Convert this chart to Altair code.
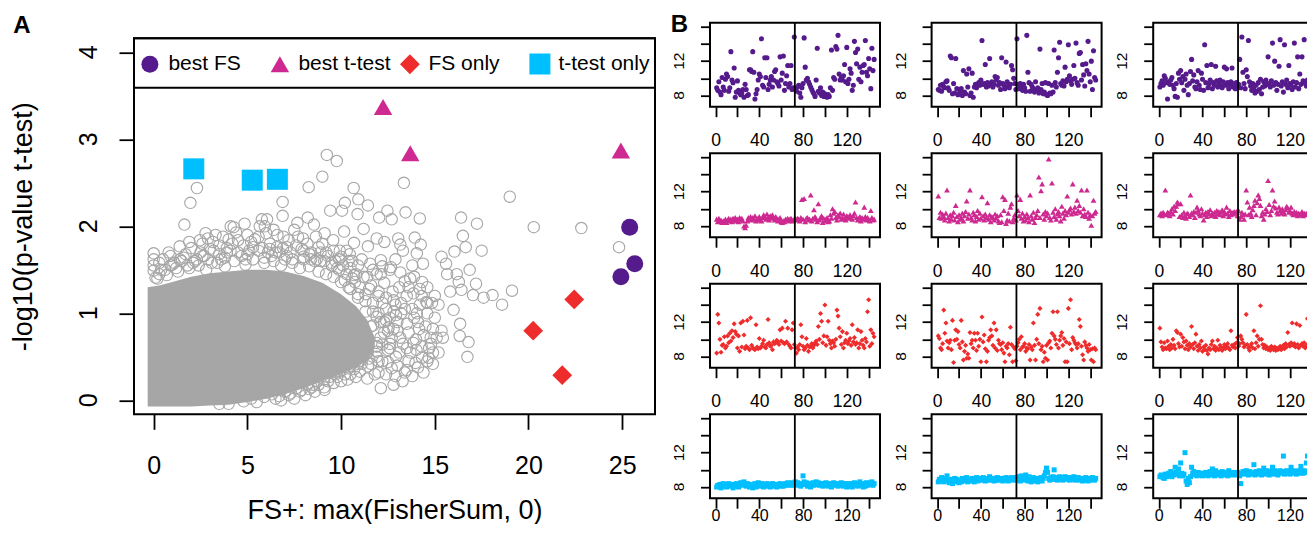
import altair as alt
import pandas as pd

FONT = "Liberation Sans"
PURPLE = "#551A8B"
MAGENTA = "#CD2990"
RED = "#EE2C2C"
CYAN = "#00BFFF"
GREY = "#A6A6A6"

# ---------------- Panel A data ----------------
cats = ["best FS", "best t-test", "FS only", "t-test only"]
cat_colors = [PURPLE, MAGENTA, RED, CYAN]
cat_shapes = ["circle", "triangle-up", "diamond", "square"]
cat_sizes = [289, 441, 300, 289]
a_yticks = [0, 1, 2, 3, 4]
a_xticks = [0, 5, 10, 15, 20, 25]

hi_cat = ["best FS"] * 3 + ["best t-test"] * 3 + ["FS only"] * 3 + ["t-test only"] * 3
hi_x = [25.4, 25.67, 24.93, 12.24, 13.69, 24.93, 20.25, 22.44, 21.8, 2.14, 5.26, 6.6]
hi_y = [1.99, 1.57, 1.42, 3.37, 2.84, 2.87, 0.80, 1.16, 0.29, 2.66, 2.53, 2.54]

# dense core of the grey cloud (visible upper / lower edge)
core_x = [-0.32, 0.3, 1, 2, 3, 4, 5, 6, 7, 8, 9, 10, 10.8, 11.4, 11.8]
core_hi = [1.30, 1.32, 1.36, 1.42, 1.46, 1.48, 1.50, 1.50, 1.48, 1.43, 1.35, 1.22, 1.08, 0.92, 0.72]
core_lo = [-0.07, -0.07, -0.07, -0.07, -0.06, -0.05, -0.02, 0.02, 0.07, 0.14, 0.22, 0.30, 0.38, 0.46, 0.60]

# scattered grey points
grey_x = [9.24, 9.77, 9.0, 8.27, 10.67, 13.35, 2.31, 1.96, 6.88, 10.92, 10.2, 11.43, 9.42, 10.05, 12.47,
          13.44, 10.88, 6.88, 6.05, 8.22, 12.03, 12.7, 14.2, 16.4, 17.25, 19.0, 20.28, 22.82, 24.83, 1.64,
          4.85, 7.67, 8.55, 4.27, 11.2, 16.5, 16.05, 16.65, 17.5, 15.36, 15.6, 16.17, 16.86, 15.66, 16.28,
          17.2, 15.82, 16.42, 17.04, 17.6, 18.08, 18.59, 19.12, 16.0, 16.35, 16.33, 16.8, 16.74, 15.36, 15.43,
          14.78, 14.67, 13.97, 13.28, 12.12, 14.55, 14.85, 14.04, 13.86, 14.32, 13.69, 14.37, 13.93, 14.25, 13.05,
          13.16, 14.04, 12.31, 11.9, 11.43, 10.69, 10.16, 10.46, 10.74, 10.79, 10.35, 9.12, 8.43, 7.04, 6.24,
          4.46, 2.31, 13.86, 13.51, 14.32, 12.93, 12.7, 11.9, 11.43, 12.54, 13.16, 12.93, 13.4, 13.51, 14.16,
          14.02, 14.9, 11.9, 12.75, 13.16, 13.4, 12.12, 12.66, 12.12, 11.55, 0.0, 0.0, 0.1, 1.39, 2.47,
          2.77, 3.16, 3.7, 4.11, 5.66, 5.77, 5.93, 6.58, 6.93, 7.97, 8.66, 9.0, 9.58, 9.12, 9.93,
          8.31, 0.0, 0.0, 0.3, 0.6, 0.9, 1.2, 1.5, 1.8, 2.2, 2.5, 2.9, 3.2, 3.5, 3.9,
          4.2, 4.5, 4.8, 5.1, 5.4, 5.8, 6.2, 6.5, 6.9, 7.3, 7.6, 8.0, 8.4, 8.7, 9.1,
          9.5, 9.9, 10.3, 10.6, 11.0, 11.3, 11.7, 12.0, 12.3, 12.5, 12.6, 6.5, 7.2, 7.8, 8.3,
          8.8, 9.3, 9.8, 10.2, 10.7, 11.1, 11.5, 11.9, 12.2, 5.5, 3.5, 11.2, 11.6, 12.0, 12.4,
          12.8, 13.1, 13.5, 13.8, 14.1, 14.4, 14.7, 12.2, 12.6, 13.0, 13.3, 13.7, 14.0, 14.3, 14.6,
          14.9, 13.5, 12.9, 11.8, 11.4, 12.3, 12.6, 11.9, 11.4, 10.9, 10.4, 10.0, 9.6, 13.8, 14.3,
          14.6, 15.0, 15.2,
          0.5, 0.8, 1.1, 1.7, 2.0, 2.3, 2.6, 3.0, 3.3, 3.6, 4.0, 4.4, 4.7, 5.0, 5.2,
          5.6, 6.0, 6.3, 6.6, 7.0, 7.2, 7.5, 7.9, 8.2, 8.6, 8.9, 9.3, 9.7, 10.1, 10.5,
          10.8, 11.2, 11.6, 12.0, 12.4, 12.8, 6.8, 7.5, 8.1, 8.6, 9.1, 9.6, 10.0, 10.5, 11.0,
          11.6, 12.0, 12.5, 12.7, 13.0, 12.9, 13.2, 13.6, 13.9, 14.2, 14.5, 14.8, 15.1, 14.4, 13.8,
          15.2, 14.6, 15.0, 13.0, 12.4,
          0.2, 0.7, 1.3, 1.9, 2.4, 2.8, 3.4, 3.8, 4.3, 4.9, 5.3, 5.9, 6.4, 6.8, 7.4,
          7.8, 8.3, 8.8, 9.2, 9.6, 10.0, 10.4, 10.9, 11.3, 11.7, 12.1, 12.3, 11.9, 11.4, 10.8,
          10.2, 9.7, 9.1, 8.5, 7.9, 7.3, 6.7, 0.4, 1.0, 1.6, 2.7, 3.9, 5.0, 6.1, 7.1,
          8.0, 8.9, 9.8, 10.7, 11.5, 12.2, 12.6, 11.9, 11.2, 10.5]
grey_y = [2.82, 2.75, 2.57, 2.45, 2.44, 2.50, 2.44, 2.27, 2.28, 2.31, 2.27, 2.24, 2.18, 2.18, 2.18,
          2.16, 2.14, 2.12, 2.08, 2.10, 2.10, 2.08, 2.09, 2.10, 2.03, 2.34, 1.99, 1.98, 1.76, 2.02,
          2.03, 2.04, 2.02, 1.99, 1.97, 1.89, 1.71, 1.76, 1.72, 1.65, 1.57, 1.45, 1.50, 1.45, 1.36,
          1.34, 1.25, 1.27, 1.21, 1.18, 1.21, 1.10, 1.26, 1.04, 0.88, 0.74, 0.67, 0.50, 0.80, 0.72,
          0.72, 0.49, 0.43, 0.22, 0.14, 1.13, 1.12, 1.00, 1.23, 1.36, 1.40, 1.57, 1.87, 1.79, 1.86,
          1.79, 1.69, 1.82, 1.86, 1.77, 1.81, 1.94, 1.68, 1.36, 0.27, 0.24, 0.12, 0.15, 0.11, 0.11,
          0.04, 0.01, 0.66, 0.60, 0.49, 0.50, 0.37, 0.50, 0.39, 0.84, 0.72, 0.98, 1.05, 0.88, 0.82,
          0.58, 0.82, 0.96, 1.25, 1.47, 1.37, 1.45, 1.53, 1.61, 1.57, 1.69, 1.49, 1.41, 1.77, 1.84,
          1.92, 1.82, 1.88, 2.00, 2.00, 2.08, 2.00, 1.76, 1.88, 1.86, 1.88, 1.80, 1.84, 1.92, 1.72,
          1.68, 1.55, 1.62, 1.45, 1.50, 1.55, 1.52, 1.60, 1.55, 1.60, 1.70, 1.62, 1.72, 1.68, 1.75,
          1.80, 1.70, 1.78, 1.72, 1.85, 1.75, 1.80, 1.70, 1.75, 1.70, 1.78, 1.65, 1.70, 1.62, 1.60,
          1.55, 1.50, 1.45, 1.40, 1.30, 1.22, 1.12, 1.00, 0.90, 0.80, 0.65, 0.02, 0.06, 0.10, 0.13,
          0.18, 0.22, 0.27, 0.30, 0.36, 0.42, 0.48, 0.56, 0.64, -0.02, -0.04, 0.70, 0.85, 1.20, 1.05,
          1.15, 1.30, 1.20, 1.05, 0.90, 0.75, 0.60, 0.45, 0.60, 0.80, 0.65, 0.55, 0.70, 0.62, 0.45,
          0.55, 0.35, 0.28, 0.30, 0.25, 1.35, 1.50, 1.45, 1.42, 1.55, 1.60, 1.65, 1.72, 1.55, 1.20,
          1.00, 0.95, 1.10,
          1.62, 1.70, 1.58, 1.68, 1.75, 1.62, 1.80, 1.74, 1.90, 1.62, 1.85, 1.93, 1.66, 1.90, 1.82,
          1.72, 1.92, 1.66, 1.90, 1.62, 1.84, 1.96, 1.74, 1.80, 1.60, 1.70, 1.66, 1.60, 1.55, 1.52,
          1.45, 1.42, 1.32, 1.25, 1.18, 1.02, 0.00, 0.02, 0.06, 0.10, 0.15, 0.20, 0.22, 0.30, 0.33,
          0.42, 0.45, 0.58, 0.72, 0.90, 1.10, 1.00, 0.78, 0.95, 1.10, 0.85, 0.65, 0.72, 0.32, 0.28,
          0.55, 1.30, 1.20, 0.40, 0.30,
          1.40, 1.44, 1.48, 1.52, 1.55, 1.50, 1.58, 1.54, 1.60, 1.56, 1.62, 1.58, 1.60, 1.55, 1.58,
          1.52, 1.54, 1.48, 1.45, 1.42, 1.36, 1.30, 1.22, 1.14, 1.02, 0.90, 0.78, 0.66, 0.55, 0.46,
          0.38, 0.30, 0.24, 0.18, 0.12, 0.08, 0.05, 1.50, 1.56, 1.64, 1.66, 1.70, 1.68, 1.70, 1.66,
          1.62, 1.60, 1.52, 1.44, 1.28, 1.12, 0.95, 0.62, 0.50, 0.40]
grey2_x = [0.3, 0.9, 1.4, 1.9, 2.1, 2.6, 2.9, 3.1, 3.5, 3.8, 4.1, 4.5, 4.9, 5.3, 5.6,
           5.9, 6.2, 6.4, 6.7, 7.1, 7.4, 7.7, 8.0, 8.4, 8.8, 9.2, 9.5, 9.9, 10.3, 10.6,
           10.2, 10.5, 10.9, 11.3, 11.7, 12.1, 12.4, 12.8, 13.2, 13.6, 13.9, 14.2, 14.6, 11.1, 11.7,
           12.2, 12.9, 13.3, 10.9, 11.4, 11.9, 12.5, 13.1, 13.6, 14.1, 14.9, 12.0, 12.8, 13.4,
           4.0, 4.8, 5.2, 5.9, 6.3, 7.0, 7.6, 8.2, 8.7, 9.4, 9.9, 10.4, 11.0]
grey2_y = [1.58, 1.66, 1.62, 1.82, 1.58, 1.66, 1.86, 1.58, 1.78, 1.64, 1.72, 1.84, 1.62, 1.76, 1.88,
           1.64, 1.74, 1.96, 1.70, 1.76, 1.62, 1.88, 1.72, 1.62, 1.76, 1.70, 1.58, 1.62, 1.72, 1.60,
           1.38, 1.28, 1.18, 1.02, 0.86, 0.72, 0.92, 0.82, 1.12, 1.30, 1.42, 1.28, 1.12, 1.62, 1.50,
           1.54, 1.62, 1.72, 0.42, 0.55, 0.62, 0.44, 0.55, 0.45, 0.38, 0.42, 0.32, 0.18, 0.32,
           -0.04, -0.01, 0.02, 0.04, 0.07, 0.10, 0.14, 0.18, 0.22, 0.27, 0.33, 0.38, 0.45]

# ---------------- Panel B data (index 1..145 per panel) ----------------
split_at = 72.5
b_ylabels = [8, 12]
b_r1c1 = [8.9, 8.6, 9.6, 8.4, 8.1, 10.1, 9.0, 8.6, 9.9, 10.5,
          10.2, 8.5, 8.9, 13.1, 9.8, 9.5, 11.2, 7.8, 8.4, 9.7,
          8.6, 8.3, 8.1, 8.3, 8.7, 7.8, 9.3, 8.7, 8.0, 8.1,
          11.0, 11.0, 10.8, 13.1, 10.7, 7.6, 8.2, 8.7, 9.8, 10.5,
          10.2, 14.6, 9.2, 9.0, 12.4, 10.1, 12.4, 8.7, 9.3, 9.8,
          10.2, 9.0, 9.8, 10.8, 11.0, 9.6, 9.4, 9.1, 12.5, 9.8,
          10.6, 12.6, 8.6, 9.4, 10.3, 11.5, 9.0, 9.4, 11.5, 8.7,
          8.9, 14.8, 8.8, 8.5, 9.0, 9.2, 8.3, 7.8, 8.9, 9.4,
          14.7, 11.3, 9.8, 10.0, 9.6, 9.3, 9.0, 8.7, 8.4, 8.2,
          7.9, 9.8, 13.5, 8.5, 8.3, 8.9, 8.0, 8.4, 7.9, 8.2,
          7.9, 7.8, 8.1, 7.9, 8.9, 13.3, 8.6, 10.1, 9.9, 13.7,
          13.4, 15.0, 10.5, 9.8, 10.1, 9.8, 10.3, 11.6, 9.6, 13.6,
          9.4, 9.9, 11.1, 10.6, 8.6, 9.2, 14.3, 13.0, 11.7, 13.4,
          9.9, 11.3, 9.6, 10.7, 11.5, 11.6, 14.4, 10.7, 10.3, 12.3,
          11.1, 8.8, 13.5, 10.9, 12.2]
b_r1c2 = [8.7, 8.6, 9.2, 8.5, 9.3, 9.0, 8.9, 9.6, 9.7, 8.9,
          8.6, 12.6, 12.4, 8.2, 9.4, 8.3, 12.3, 8.8, 8.1, 8.2,
          8.5, 8.8, 8.0, 10.9, 8.4, 8.2, 10.5, 9.0, 11.1, 8.0,
          8.3, 10.6, 7.8, 9.0, 9.3, 8.9, 9.2, 9.5, 9.2, 9.8,
          14.4, 9.3, 9.4, 11.6, 9.0, 9.5, 9.1, 12.3, 9.4, 9.6,
          9.0, 9.3, 10.2, 9.8, 10.1, 9.2, 9.5, 8.7, 12.4, 9.4,
          9.2, 8.8, 11.9, 9.6, 9.1, 8.9, 9.3, 11.5, 11.0, 10.0,
          9.4, 8.7, 14.6, 9.3, 8.8, 9.4, 9.1, 8.6, 9.3, 8.9,
          8.5, 15.0, 10.7, 9.5, 8.5, 9.3, 9.0, 8.8, 8.4, 9.6,
          8.6, 8.9, 8.3, 13.4, 8.7, 9.4, 8.2, 8.4, 9.5, 8.1,
          8.0, 9.4, 8.3, 8.2, 9.2, 8.4, 13.3, 9.5, 9.0, 10.7,
          12.4, 14.2, 9.4, 9.2, 9.7, 9.1, 11.3, 9.6, 9.9, 13.9,
          10.3, 9.7, 9.3, 9.9, 11.5, 10.0, 14.1, 9.5, 9.2, 12.9,
          13.0, 9.8, 11.6, 10.4, 9.1, 11.7, 10.9, 14.3, 10.5, 9.6,
          12.0, 8.7, 13.2, 10.1, 9.8]
b_r1c3 = [9.0, 9.4, 9.7, 9.2, 10.3, 10.0, 9.5, 7.6, 9.6, 9.3,
          9.8, 10.1, 9.2, 8.8, 7.9, 9.4, 7.8, 10.6, 9.9, 10.9,
          9.5, 10.2, 8.6, 9.9, 10.5, 9.2, 8.1, 9.4, 10.8, 12.2,
          9.7, 10.4, 9.0, 8.8, 9.6, 10.9, 9.2, 8.7, 10.6, 9.9,
          8.6, 13.9, 9.5, 11.5, 8.9, 9.3, 9.8, 11.6, 8.8, 9.5,
          9.2, 11.4, 9.7, 9.0, 9.4, 9.8, 9.1, 8.9, 9.6, 11.3,
          9.2, 11.1, 9.5, 8.8, 9.3, 9.6, 11.2, 9.0, 9.4, 8.8,
          9.5, 9.1, 9.3, 12.2, 8.9, 14.8, 10.7, 9.4, 8.8, 11.0,
          10.2, 14.4, 9.6, 9.1, 8.6, 9.4, 8.8, 8.3, 9.2, 8.5,
          9.5, 8.7, 9.9, 8.2, 9.0, 9.6, 9.1, 9.8, 9.3, 12.5,
          9.4, 9.0, 9.7, 14.1, 9.2, 12.0, 9.5, 8.6, 9.3, 11.4,
          14.5, 9.1, 9.6, 8.4, 13.9, 9.3, 9.8, 8.9, 11.5, 9.4,
          9.2, 8.7, 9.6, 14.1, 9.0, 9.5, 12.5, 8.8, 10.5, 9.3,
          12.5, 9.7, 14.5, 9.4, 9.1, 9.8, 9.4, 9.6, 9.2, 9.5,
          9.3, 9.7, 9.5, 9.4, 9.6]
b_r2c1 = [8.8, 8.5, 8.9, 8.6, 8.7, 8.4, 8.6, 8.5, 8.8, 8.4,
          8.7, 8.9, 8.6, 8.8, 8.5, 8.9, 8.7, 9.0, 8.6, 8.8,
          8.5, 9.0, 8.7, 8.9, 8.6, 8.0, 7.8, 8.1, 8.6, 9.0,
          8.8, 9.1, 8.7, 9.0, 8.8, 9.2, 8.6, 8.9, 8.7, 9.1,
          8.8, 8.6, 9.0, 9.3, 9.1, 8.8, 9.4, 9.0, 8.7, 9.2,
          9.0, 9.3, 8.9, 8.7, 9.1, 8.9, 8.6, 8.8, 9.0, 8.5,
          8.4, 8.6, 8.5, 8.8, 8.7, 8.9, 8.6, 8.8, 8.9, 8.7,
          8.6, 8.8, 8.9, 8.7, 8.9, 8.8, 8.6, 9.0, 11.1, 8.8,
          11.2, 8.5, 8.9, 9.0, 8.7, 8.8, 11.6, 8.6, 8.9, 9.9,
          9.1, 8.8, 8.5, 10.6, 8.7, 9.0, 9.2, 8.4, 8.9, 8.6,
          8.8, 9.0, 8.5, 8.6, 9.3, 8.9, 10.0, 9.5, 9.7, 9.0,
          8.7, 9.3, 9.1, 9.5, 8.8, 9.0, 9.4, 8.9, 8.7, 9.2,
          9.1, 8.9, 9.3, 9.0, 8.8, 9.2, 9.5, 10.8, 9.0, 8.7,
          8.9, 9.1, 8.6, 9.0, 8.8, 10.2, 9.1, 8.7, 9.0, 8.8,
          8.6, 9.8, 9.0, 8.7, 8.8]
b_r2c2 = [11.5, 9.0, 9.6, 8.9, 9.4, 9.1, 8.7, 9.5, 12.2, 9.0,
          8.6, 9.3, 8.8, 9.2, 9.6, 8.7, 10.4, 9.1, 8.5, 9.3,
          8.8, 9.0, 9.5, 8.6, 9.2, 9.7, 10.9, 8.9, 9.4, 12.2,
          9.0, 8.7, 9.6, 9.3, 8.6, 9.1, 9.8, 8.8, 9.5, 8.9,
          11.4, 9.2, 8.7, 9.4, 9.0, 10.7, 8.8, 9.3, 8.5, 9.1,
          9.0, 8.7, 9.4, 8.9, 9.2, 8.6, 8.4, 9.3, 8.5, 11.4,
          9.8, 11.1, 8.3, 8.7, 9.5, 8.6, 10.2, 10.6, 8.5, 8.9,
          9.3, 8.7, 11.6, 9.8, 9.2, 11.1, 8.9, 9.5, 8.6, 9.1,
          8.7, 9.4, 9.0, 8.5, 11.6, 9.2, 8.8, 9.6, 8.4, 9.0,
          9.3, 9.8, 13.7, 9.0, 12.1, 12.9, 9.4, 8.8, 9.7, 9.2,
          9.5, 15.8, 9.0, 8.7, 13.0, 9.6, 9.1, 10.0, 8.8, 9.4,
          9.7, 9.2, 8.6, 10.3, 9.5, 8.9, 9.8, 9.3, 11.5, 9.6,
          9.9, 10.1, 9.4, 12.9, 9.7, 10.2, 9.5, 11.0, 9.8, 10.4,
          9.6, 12.2, 9.2, 10.0, 9.4, 9.1, 12.2, 9.6, 8.9, 9.3,
          8.1, 9.2, 11.0, 9.5, 9.7]
b_r2c3 = [9.3, 9.5, 9.2, 9.6, 9.4, 12.2, 9.3, 9.6, 9.5, 9.2,
          9.7, 10.0, 9.4, 10.3, 9.8, 10.3, 10.8, 10.6, 9.1, 10.6,
          9.3, 9.0, 9.6, 9.2, 8.9, 9.5, 9.4, 9.1, 11.6, 9.5,
          9.3, 9.7, 9.0, 9.6, 10.2, 9.8, 9.4, 9.2, 10.0, 9.5,
          8.7, 9.3, 9.6, 9.1, 9.7, 9.4, 9.9, 9.2, 9.5, 9.3,
          9.6, 9.1, 9.8, 9.4, 9.7, 9.3, 9.6, 9.9, 9.2, 9.7,
          9.4, 10.2, 9.5, 9.1, 9.8, 9.3, 9.6, 9.4, 9.7, 9.5,
          9.7, 9.2, 9.8, 8.8, 9.1, 9.6, 9.3, 8.8, 9.4, 12.2,
          10.8, 9.3, 10.2, 9.5, 9.1, 9.9, 10.4, 11.0, 9.3, 10.7,
          11.6, 11.2, 10.4, 9.2, 9.6, 8.8, 9.4, 10.0, 9.7, 13.3,
          10.5, 9.3, 9.8, 12.2, 10.3, 10.9, 10.1, 9.6, 9.4, 10.2,
          9.8, 9.5, 10.0, 9.7, 9.4, 9.9, 10.3, 10.1, 9.6, 9.8,
          10.2, 9.5, 9.3, 9.7, 9.4, 9.6, 9.2, 9.5, 9.3, 9.4,
          9.7, 9.2, 9.5, 9.4, 9.3, 9.6, 9.5, 14.3, 9.4, 9.3,
          9.6, 9.4, 9.5, 9.3, 9.4]
b_r3c1 = [8.4, 12.9, 11.9, 10.0, 8.5, 9.3, 9.4, 10.3, 9.0, 9.2,
          10.4, 9.6, 10.7, 9.8, 11.0, 10.2, 11.8, 10.9, 10.6, 9.0,
          10.4, 8.6, 11.9, 9.1, 12.1, 10.5, 8.9, 9.2, 12.2, 9.0,
          8.8, 12.5, 9.3, 9.0, 8.9, 8.8, 11.7, 9.1, 8.9, 10.1,
          9.0, 9.2, 9.5, 9.9, 9.1, 9.0, 9.4, 12.3, 9.6, 9.2,
          9.3, 8.8, 9.7, 9.5, 9.6, 9.9, 9.7, 9.4, 11.1, 9.8,
          11.3, 9.6, 9.5, 12.1, 9.7, 11.3, 9.4, 9.2, 9.0, 11.1,
          11.9, 9.4, 9.0, 8.4, 9.1, 8.8, 9.4, 11.7, 10.3, 9.2,
          8.8, 9.0, 10.1, 9.3, 8.6, 9.1, 9.2, 9.5, 9.0, 9.3,
          9.6, 9.8, 9.4, 11.5, 10.0, 13.0, 12.1, 9.6, 10.4, 14.0,
          9.3, 10.3, 12.1, 9.9, 9.5, 9.0, 9.8, 9.6, 9.2, 10.0,
          13.4, 12.7, 11.3, 10.3, 9.4, 10.9, 9.0, 9.6, 9.9, 10.7,
          9.5, 9.8, 10.1, 9.3, 11.7, 9.7, 10.2, 9.4, 9.6, 11.1,
          9.0, 9.5, 10.9, 9.9, 9.3, 9.0, 10.1, 9.7, 13.2, 14.6,
          9.2, 11.1, 9.5, 10.7, 10.3]
b_r3c2 = [10.4, 10.1, 9.0, 8.8, 9.5, 13.4, 10.7, 11.9, 9.8, 9.0,
          9.6, 9.9, 8.8, 12.2, 7.3, 9.9, 11.1, 10.0, 10.9, 9.4,
          9.0, 12.2, 9.7, 7.6, 8.6, 9.3, 7.8, 8.3, 7.8, 10.8,
          9.5, 9.9, 9.0, 10.7, 9.9, 8.7, 10.7, 9.2, 10.0, 7.4,
          12.6, 9.7, 10.5, 8.9, 7.4, 8.6, 9.9, 10.2, 11.1, 10.4,
          9.3, 11.9, 9.0, 11.1, 8.7, 9.9, 9.5, 9.4, 8.8, 9.6,
          8.4, 7.4, 9.2, 9.0, 9.5, 8.2, 11.4, 9.4, 7.4, 9.1,
          8.9, 7.5, 9.2, 9.6, 10.0, 8.8, 10.3, 9.1, 9.2, 9.5,
          8.6, 9.0, 8.9, 9.4, 7.6, 9.1, 8.8, 11.9, 9.3, 7.6,
          10.0, 12.9, 9.5, 13.6, 8.8, 9.2, 7.4, 8.5, 7.8, 9.3,
          7.6, 9.6, 9.8, 9.0, 10.7, 13.2, 10.4, 10.0, 9.4, 13.2,
          9.0, 9.9, 10.4, 10.8, 9.3, 10.1, 7.4, 9.7, 7.4, 13.6,
          9.5, 14.6, 8.8, 10.2, 9.9, 9.6, 9.4, 9.0, 9.5, 12.3,
          11.5, 9.2, 8.2, 7.6, 9.7, 9.3, 9.0, 8.6, 9.4, 8.8,
          7.6, 8.9, 7.4, 9.0, 8.8]
b_r3c3 = [11.3, 9.7, 9.1, 8.8, 9.6, 9.0, 8.9, 9.8, 9.2, 8.8,
          9.4, 9.0, 10.0, 9.3, 8.9, 11.0, 10.8, 9.5, 9.1, 10.6,
          9.2, 10.2, 9.7, 8.9, 9.8, 9.3, 8.8, 9.5, 9.1, 11.5,
          9.4, 8.9, 9.6, 10.6, 9.2, 8.7, 9.4, 9.0, 9.8, 8.6,
          9.1, 8.8, 9.3, 8.7, 8.3, 9.0, 8.8, 9.4, 9.8, 8.9,
          9.2, 8.7, 9.0, 9.9, 8.8, 9.3, 9.1, 8.7, 9.0, 9.4,
          8.9, 9.2, 9.5, 9.0, 8.8, 11.0, 9.3, 9.1, 9.4, 9.0,
          9.6, 10.2, 9.2, 9.5, 10.4, 10.0, 9.6, 9.1, 9.3, 12.9,
          9.4, 9.0, 8.7, 9.2, 9.5, 9.0, 11.0, 8.9, 9.6, 10.4,
          9.2, 10.0, 13.9, 10.0, 9.4, 9.0, 9.3, 8.9, 9.1, 8.8,
          9.0, 8.7, 9.2, 8.9, 8.8, 9.1, 8.7, 9.0, 8.8, 8.9,
          9.2, 8.8, 9.0, 9.3, 8.9, 9.5, 9.1, 10.8, 9.4, 9.2,
          9.6, 11.9, 9.3, 9.5, 9.1, 11.8, 9.4, 9.0, 11.6, 9.3,
          9.5, 9.2, 9.6, 9.0, 9.3, 12.4, 9.5, 11.6, 13.9, 9.4,
          9.3, 9.6, 9.2, 9.5, 9.4]
b_r4c1 = [8.0, 8.2, 8.1, 8.3, 7.9, 8.2, 8.4, 8.1, 8.3, 8.0,
          8.2, 8.4, 8.1, 8.3, 8.2, 7.9, 8.1, 8.3, 8.4, 8.2,
          8.0, 8.3, 8.5, 8.2, 8.4, 8.6, 8.3, 8.1, 8.4, 8.2,
          8.0, 8.3, 8.1, 7.9, 8.2, 8.4, 8.0, 8.2, 8.5, 8.3,
          8.1, 8.4, 8.2, 8.0, 8.3, 8.1, 8.4, 8.2, 8.3, 8.0,
          8.2, 8.4, 8.1, 8.3, 8.2, 8.0, 8.3, 8.2, 8.4, 8.1,
          8.3, 8.1, 8.2, 8.4, 8.3, 8.5, 8.2, 8.4, 8.3, 8.5,
          8.2, 8.4, 8.6, 8.3, 8.5, 8.2, 8.4, 8.1, 8.3, 9.3,
          8.6, 8.3, 8.5, 8.1, 8.4, 8.2, 8.0, 8.3, 8.5, 8.2,
          8.4, 8.6, 8.3, 8.5, 8.2, 8.4, 8.3, 8.1, 8.4, 8.2,
          8.5, 8.3, 8.1, 8.4, 8.2, 8.0, 8.3, 8.5, 8.2, 8.4,
          8.3, 8.1, 8.4, 8.2, 8.5, 8.3, 8.1, 8.2, 8.4, 8.0,
          8.3, 8.1, 8.4, 8.2, 8.0, 8.3, 8.5, 8.2, 8.4, 8.1,
          8.3, 8.6, 8.2, 8.4, 8.0, 8.3, 8.1, 8.5, 8.2, 8.4,
          8.3, 8.5, 8.6, 8.2, 8.4]
b_r4c2 = [8.6, 8.9, 8.7, 9.1, 8.8, 8.6, 9.0, 8.7, 9.3, 8.8,
          8.5, 8.9, 8.7, 8.4, 8.8, 9.0, 8.6, 8.9, 8.7, 8.5,
          8.8, 8.6, 9.0, 8.7, 8.9, 8.8, 9.1, 8.6, 8.9, 8.8,
          8.7, 9.0, 8.8, 8.6, 8.9, 9.1, 8.7, 8.9, 8.8, 9.0,
          8.8, 9.1, 8.9, 8.7, 9.0, 8.8, 8.9, 9.2, 8.8, 9.0,
          8.9, 8.7, 9.0, 8.8, 9.1, 8.9, 8.8, 9.0, 8.9, 8.7,
          9.0, 8.8, 9.1, 8.9, 8.7, 9.0, 8.9, 9.1, 8.8, 9.0,
          8.9, 9.1, 8.8, 9.2, 9.0, 8.7, 9.3, 8.9, 9.1, 8.8,
          9.4, 9.0, 8.7, 9.2, 8.9, 8.6, 8.8, 9.1, 8.7, 8.9,
          9.0, 8.6, 8.9, 8.8, 9.1, 8.7, 9.0, 9.3, 9.7, 10.2,
          9.7, 9.0, 8.8, 9.1, 8.9, 9.2, 10.0, 8.9, 9.1, 8.8,
          9.0, 9.2, 8.9, 9.1, 8.8, 9.0, 9.2, 8.9, 9.1, 9.0,
          8.8, 9.1, 9.0, 8.9, 9.2, 8.8, 9.0, 8.9, 9.1, 8.8,
          9.0, 8.9, 8.7, 9.0, 8.8, 9.1, 8.9, 8.7, 9.0, 8.8,
          8.9, 9.1, 9.0, 8.8, 9.0]
b_r4c3 = [9.2, 9.4, 9.3, 9.1, 9.0, 9.5, 9.2, 9.4, 9.6, 9.3,
          9.8, 9.2, 9.6, 9.4, 10.3, 9.7, 9.5, 10.1, 9.3, 10.8,
          9.6, 9.3, 9.5, 12.0, 8.7, 8.3, 9.0, 8.5, 9.2, 10.3,
          9.6, 9.8, 9.4, 9.5, 9.3, 9.7, 9.4, 9.6, 9.5, 9.3,
          9.6, 9.4, 9.7, 9.5, 9.3, 9.6, 9.8, 9.4, 10.1, 9.5,
          9.3, 9.9, 9.6, 9.4, 9.7, 9.5, 9.3, 9.8, 9.6, 9.4,
          9.7, 9.5, 9.3, 9.9, 9.5, 9.6, 9.4, 9.7, 9.5, 9.6,
          9.4, 9.7, 9.5, 9.3, 8.4, 9.6, 9.8, 9.5, 9.7, 9.9,
          9.6, 9.4, 9.8, 9.5, 9.7, 9.6, 10.6, 9.4, 9.8, 9.5,
          9.7, 9.9, 9.6, 9.4, 9.8, 10.2, 9.5, 9.7, 9.9, 9.6,
          9.4, 9.8, 9.7, 10.3, 9.5, 9.9, 9.6, 9.8, 9.4, 9.7,
          9.9, 9.6, 9.8, 11.6, 9.5, 9.7, 9.9, 9.6, 9.8, 9.5,
          10.3, 9.7, 9.9, 9.6, 9.8, 9.5, 9.7, 9.9, 9.6, 10.4,
          9.8, 9.6, 9.9, 9.7, 10.8, 11.6, 9.8, 9.9, 11.4, 9.7,
          9.9, 9.6, 9.8, 9.7, 9.9]

# ---------------- layout (pixels) ----------------
A_W, A_H = 521, 376
A_TOP = 15.6                     # panel A box starts this far below panel B's first row
B_W, B_H = 170, 84
B_COL_GAP, B_ROW_GAP = 51.6, 46.5
AB_GAP = 13
SVG_W, SVG_H = 1299, 516
PAD_L, PAD_T = 126, 14.7

# ---------------- Panel A ----------------
xA = alt.Scale(domain=[-1.05, 26.75], nice=False, zero=False)
yA = alt.Scale(domain=[-0.16, 4.16 + A_TOP * 4.32 / A_H], nice=False, zero=False)
axA_x = alt.Axis(values=a_xticks, tickSize=15, tickWidth=1.8, tickColor="black",
                 labelFontSize=25, labelColor="black", labelBaseline="alphabetic", labelPadding=44,
                 labelFlush=False, labelOverlap=False, domain=False, grid=False,
                 title="FS+: max(FisherSum, 0)", titleFontSize=27, titleFontWeight="normal",
                 titleColor="black", titleX=A_W / 2, titleY=104.5, titleBaseline="alphabetic",
                 titleAlign="center")
axA_y = alt.Axis(values=a_yticks, tickSize=15, tickWidth=1.8, tickColor="black", labels=False,
                 domain=False, grid=False,
                 title="-log10(p-value t-test)", titleFontSize=27, titleFontWeight="normal",
                 titleColor="black", titleAngle=270, titleX=-102.7, titleY=A_TOP + A_H / 2,
                 titleBaseline="alphabetic", titleAlign="center")

core_df = pd.DataFrame({"x": core_x, "hi": core_hi, "lo": core_lo})
grey_df = pd.DataFrame({"x": grey_x + grey2_x, "y": grey_y + grey2_y})
hi_df = pd.DataFrame({"x": hi_x, "y": hi_y, "cat": hi_cat})

core = alt.Chart(core_df).mark_area(color=GREY, opacity=1).encode(
    x=alt.X("x:Q", scale=xA, axis=axA_x),
    y=alt.Y("hi:Q", scale=yA, axis=axA_y),
    y2="lo:Q",
)
grey = alt.Chart(grey_df).mark_point(shape="circle", filled=False, color=GREY, strokeWidth=1.1,
                                     size=130, opacity=1).encode(
    x=alt.X("x:Q", scale=xA, axis=axA_x),
    y=alt.Y("y:Q", scale=yA, axis=axA_y),
)
leg = alt.Legend(title=None, orient="none", legendX=5.4, legendY=A_TOP + 15.2, direction="horizontal",
                 columns=4, gridAlign="all", columnPadding=8, labelFontSize=21, labelFont=FONT,
                 labelColor="black", labelOffset=8, symbolStrokeWidth=0, padding=0, labelLimit=300)
hi = alt.Chart(hi_df).mark_point(filled=True, opacity=1, strokeWidth=0).encode(
    x=alt.X("x:Q", scale=xA, axis=axA_x),
    y=alt.Y("y:Q", scale=yA, axis=axA_y),
    color=alt.Color("cat:N", scale=alt.Scale(domain=cats, range=cat_colors), legend=leg),
    shape=alt.Shape("cat:N", scale=alt.Scale(domain=cats, range=cat_shapes), legend=leg),
    size=alt.Size("cat:N", scale=alt.Scale(domain=cats, range=cat_sizes), legend=leg),
)
one = pd.DataFrame({"k": [0]})
legbox = alt.Chart(one).mark_rect(fill="white", stroke="black", strokeWidth=2).encode(
    x=alt.value(0), x2=alt.value(A_W), y=alt.value(A_TOP), y2=alt.value(A_TOP + 49.4)
)
frameA = alt.Chart(one).mark_rect(fillOpacity=0, stroke="black", strokeWidth=2).encode(
    x=alt.value(0), x2=alt.value(A_W), y=alt.value(A_TOP), y2=alt.value(A_TOP + A_H)
)
# y tick labels of panel A (rotated, as in the original)
ylabA = alt.Chart(pd.DataFrame({"v": a_yticks})).mark_text(
    font=FONT, fontSize=25, color="black", angle=270, align="center", baseline="alphabetic"
).encode(
    y=alt.Y("v:Q", scale=yA, axis=axA_y),
    x=alt.value(-37.3),
    text=alt.Text("v:Q", format="d"),
)
labA = alt.Chart(pd.DataFrame({"lab": ["A"]})).mark_text(
    font=FONT, fontSize=24, fontWeight="bold", color="black", align="center", baseline="middle"
).encode(text="lab:N", x=alt.value(-112), y=alt.value(3.5))
panelA = alt.layer(core, grey, hi, legbox, frameA, ylabA, labA).properties(
    width=A_W, height=A_H + A_TOP, view=alt.ViewBackground(strokeOpacity=0)
)

# ---------------- Panel B ----------------
xB = alt.Scale(domain=[-5.1, 150.4], nice=False, zero=False)
yB = alt.Scale(domain=[6.7, 16.47], nice=False, zero=False)


def axis_bx(pad, fsize):
    return alt.Axis(values=[0, 20, 40, 60, 80, 100, 120, 140],
                    labelExpr="(datum.value % 40 == 0 && datum.value < 140) ? datum.label : ''",
                    tickSize=10, tickWidth=1.8, tickColor="black", labelFontSize=fsize,
                    labelColor="black", labelBaseline="alphabetic", labelPadding=pad,
                    labelFlush=False, labelOverlap=False, domain=False, grid=False, title=None)


axB_y = alt.Axis(values=[8, 10, 12, 14, 16], labels=False,
                 tickSize=9.5, tickWidth=1.8, tickColor="black",
                 domain=False, grid=False, title=None)


def panel_b(values, color, shape, size, xpad, xfont, label=None):
    df = pd.DataFrame({"pos": list(range(1, len(values) + 1)), "val": values})
    ax = axis_bx(xpad, xfont)
    pts = alt.Chart(df).mark_point(filled=True, shape=shape, size=size, color=color, opacity=1,
                                   strokeWidth=0).encode(
        x=alt.X("pos:Q", scale=xB, axis=ax),
        y=alt.Y("val:Q", scale=yB, axis=axB_y),
    )
    vline = alt.Chart(pd.DataFrame({"pos": [split_at]})).mark_rule(color="black", strokeWidth=1.8).encode(
        x=alt.X("pos:Q", scale=xB, axis=ax)
    )
    ylab = alt.Chart(pd.DataFrame({"val": b_ylabels})).mark_text(
        font=FONT, fontSize=15.5, color="black", angle=270, align="center", baseline="alphabetic"
    ).encode(
        y=alt.Y("val:Q", scale=yB, axis=axB_y),
        x=alt.value(-26),
        text=alt.Text("val:Q", format="d"),
    )
    layers = [pts, vline, ylab]
    if label:
        lab = alt.Chart(pd.DataFrame({"lab": [label]})).mark_text(
            font=FONT, fontSize=24, fontWeight="bold", color="black", align="center", baseline="middle"
        ).encode(text="lab:N", x=alt.value(-30.7), y=alt.value(2.0))
        layers.append(lab)
    return alt.layer(*layers).properties(width=B_W, height=B_H)


rows_spec = [
    ([b_r1c1, b_r1c2, b_r1c3], PURPLE, "circle", 26, 29, 17.5),
    ([b_r2c1, b_r2c2, b_r2c3], MAGENTA, "triangle-up", 34, 29, 17.5),
    ([b_r3c1, b_r3c2, b_r3c3], RED, "diamond", 26, 29, 17.5),
    ([b_r4c1, b_r4c2, b_r4c3], CYAN, "square", 25, 11.8, 16),
]
panels = []
for ri, (vals, col, shp, sz, xpad, xfont) in enumerate(rows_spec):
    for ci, v in enumerate(vals):
        panels.append(panel_b(v, col, shp, sz, xpad, xfont, label="B" if (ri == 0 and ci == 0) else None))
gridB = alt.concat(*panels, columns=3, spacing={"row": B_ROW_GAP, "column": B_COL_GAP}, bounds="flush")

chart = alt.hconcat(panelA, gridB, spacing=AB_GAP).properties(
    autosize=alt.AutoSizeParams(type="none"),
    padding={"left": PAD_L, "top": PAD_T, "right": SVG_W - PAD_L, "bottom": SVG_H - PAD_T},
).configure(font=FONT).configure_view(stroke="black", strokeWidth=2)

chart.save("out.html", embed_options={"renderer": "svg", "actions": False})
